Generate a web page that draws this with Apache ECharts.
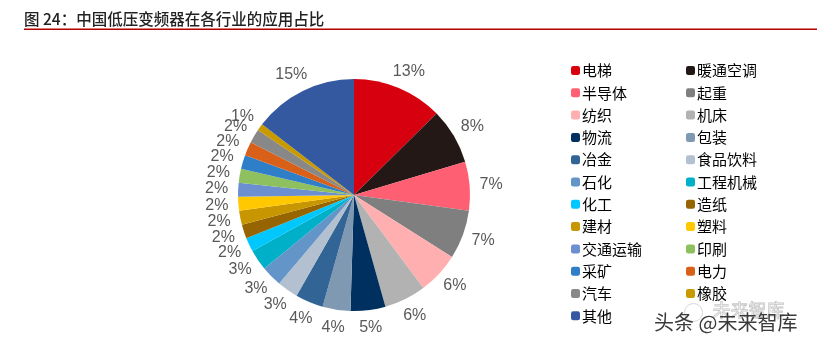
<!DOCTYPE html>
<html>
<head>
<meta charset="utf-8">
<script src="https://cdn.jsdelivr.net/npm/echarts@6/dist/echarts.min.js"></script>
<style>
  html, body { margin: 0; padding: 0; background: #fff; }
  #chart { width: 817px; height: 349px; }
</style>
</head>
<body>
<div id="chart"></div>
<script>
// Industries, in legend order (row by row, two per row)
const industries = [
  '电梯', '暖通空调', '半导体', '起重', '纺织', '机床', '物流', '包装',
  '冶金', '食品饮料', '石化', '工程机械', '化工', '造纸', '建材', '塑料',
  '交通运输', '印刷', '采矿', '电力', '汽车', '橡胶', '其他'
];
// Share of each industry, percent
const shares = [13, 8, 7, 7, 6, 6, 5, 4, 4, 3, 3, 3, 2, 2, 2, 2, 2, 2, 2, 2, 2, 1, 15];
const sliceColors = [
  '#d7000f', '#231815', '#ff5f73', '#7f7f7f', '#ffafb0', '#b2b2b2', '#00305f', '#7f99b2',
  '#326496', '#b2c0d0', '#6495c8', '#00afc8', '#00c8ff', '#966400', '#c89600', '#ffc800',
  '#6b8fd0', '#8fc060', '#2f7fc8', '#d86018', '#888888', '#c89a00', '#3459a0'
];
const titleText = '图 24：中国低压变频器在各行业的应用占比';

// pie geometry
const CX = 354, CY = 195, R = 116, LABEL_GAP = 10;

const total = shares.reduce((a, b) => a + b, 0);
const before = [];
shares.reduce((acc, v, i) => { before[i] = acc; return acc + v; }, 0);

const chart = echarts.init(document.getElementById('chart'));

const leftCol = industries.filter((_, i) => i % 2 === 0);
const rightCol = industries.filter((_, i) => i % 2 === 1);

const legendBase = {
  orient: 'vertical',
  top: 58,
  itemWidth: 9,
  itemHeight: 9,
  itemGap: 7.3,
  icon: 'roundRect',
  selectedMode: false,
  textStyle: { fontSize: 15, color: '#000', lineHeight: 15, padding: [0, 0, 0, -3],
    fontFamily: '"Noto Sans CJK SC", sans-serif' }
};

// place each percentage just beyond the rim, with its box pushed outward along the slice's mid direction
function placeLabel(p) {
  const i = p.dataIndex;
  const a = (before[i] + shares[i] / 2) / total * Math.PI * 2;
  const ux = Math.sin(a), uy = -Math.cos(a);
  const w = p.labelRect.width, h = p.labelRect.height;
  const r = R + LABEL_GAP;
  return {
    x: CX + ux * r + ux * w / 2,
    y: CY + uy * r + uy * h / 2,
    align: 'center',
    verticalAlign: 'middle',
    hideOverlap: false,
    moveOverlap: null
  };
}

chart.setOption({
  animation: false,
  backgroundColor: '#fff',
  color: sliceColors,
  graphic: [
    {
      type: 'text', left: 24, top: 11,
      style: { text: titleText, fontSize: 15.5, fontWeight: 500, fill: '#222',
        fontFamily: '"Noto Sans CJK SC", sans-serif' }
    },
    {
      type: 'rect', left: 24, top: 28.5,
      shape: { width: 793, height: 1.6 },
      style: { fill: '#b00000' }
    },
    {
      type: 'text', left: 712, top: 301,
      style: { text: '未来智库', fontSize: 18, fill: 'rgba(255,255,255,0)',
        stroke: '#c8c8c8', lineWidth: 0.8, fontFamily: '"Noto Sans CJK SC", sans-serif' }
    },
    {
      type: 'circle', left: 682, top: 301,
      shape: { r: 9 },
      style: { fill: 'none', stroke: '#d8d8d8', lineWidth: 1 }
    },
    {
      type: 'text', left: 654, top: 312,
      style: { text: '头条 @未来智库', fontSize: 20, fill: '#3a3a3a',
        fontFamily: '"Noto Sans CJK SC", sans-serif' }
    }
  ],
  legend: [
    Object.assign({}, legendBase, { left: 566, data: leftCol }),
    Object.assign({}, legendBase, { left: 681, data: rightCol })
  ],
  series: [{
    type: 'pie',
    center: [CX, CY],
    radius: [0, R],
    startAngle: 90,
    clockwise: true,
    avoidLabelOverlap: false,
    data: industries.map((name, i) => ({ name, value: shares[i] })),
    itemStyle: { borderWidth: 0 },
    label: {
      show: true,
      position: 'outside',
      formatter: '{c}%',
      fontSize: 16,
      color: '#595959',
      fontFamily: '"Liberation Sans Narrow", "Liberation Sans", sans-serif'
    },
    labelLine: { show: false },
    labelLayout: placeLabel,
    emphasis: { disabled: true }
  }]
});
</script>
</body>
</html>
